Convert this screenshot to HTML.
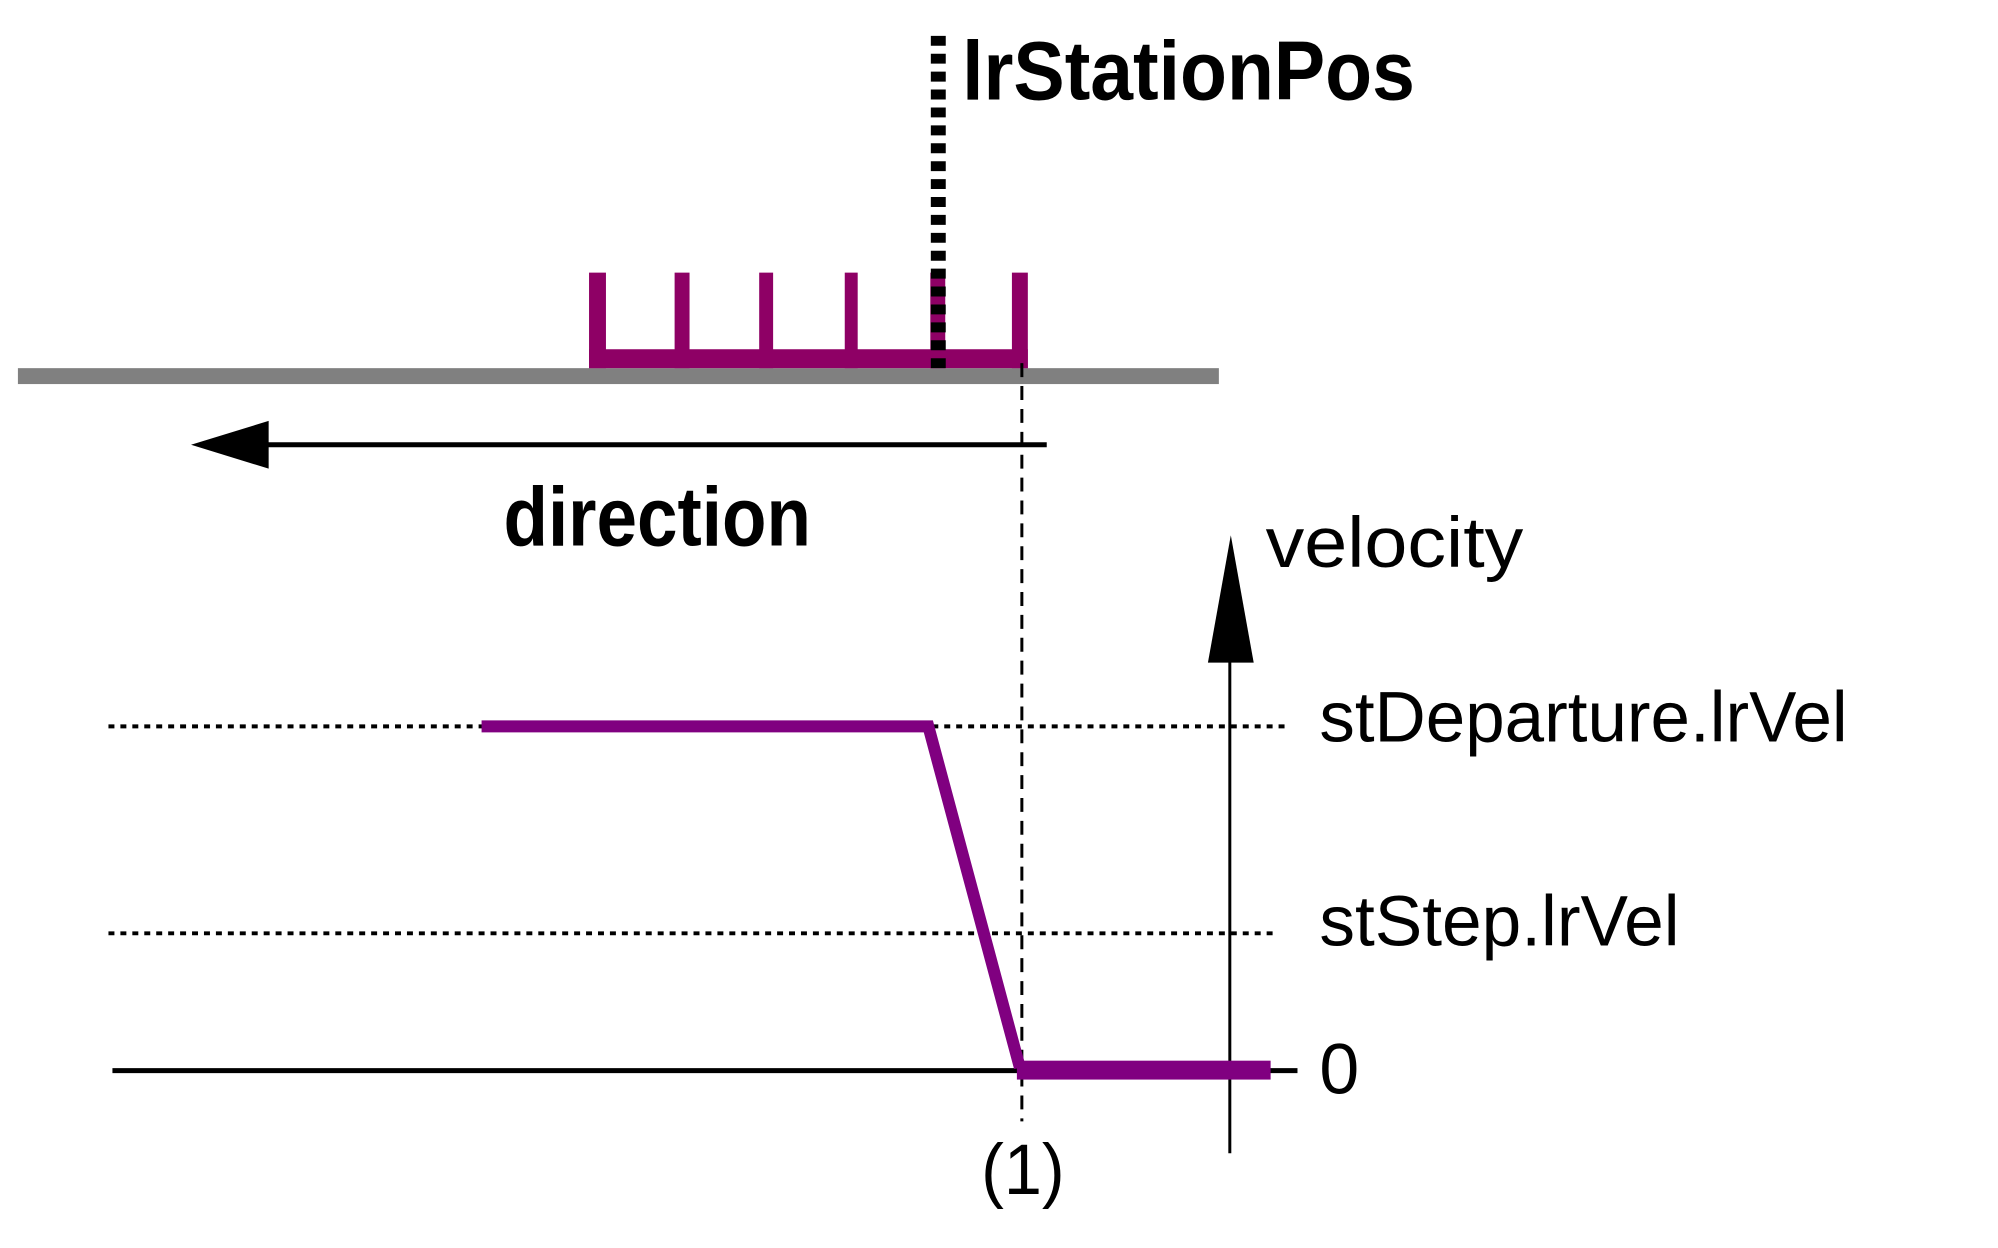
<!DOCTYPE html>
<html><head><style>html,body{margin:0;padding:0;background:#fff}svg{display:block}</style></head>
<body>
<svg width="1998" height="1248" viewBox="0 0 1998 1248" xmlns="http://www.w3.org/2000/svg" font-family="Liberation Sans, sans-serif">
<g transform="scale(0.995)">
<rect x="18" y="370" width="1207" height="16" fill="#808080"/>
<g fill="#8e0065">
<rect x="592" y="274" width="17" height="96"/>
<rect x="678" y="274" width="15" height="96"/>
<rect x="763" y="274" width="14" height="96"/>
<rect x="849" y="274" width="13" height="96"/>
<rect x="935" y="274" width="15" height="96"/>
<rect x="1017" y="274" width="16" height="96"/>
<rect x="592" y="351" width="441" height="19"/>
</g>
<line x1="943" y1="36" x2="943" y2="372" stroke="#000" stroke-width="15" stroke-dasharray="10 8"/>
<text x="967" y="100" font-size="84" font-weight="bold" textLength="455" lengthAdjust="spacingAndGlyphs">lrStationPos</text>
<line x1="1027" y1="365" x2="1027" y2="1127" stroke="#000" stroke-width="3" stroke-dasharray="14 9"/>
<line x1="250" y1="447" x2="1052" y2="447" stroke="#000" stroke-width="5"/>
<polygon points="192,447 270,423 270,471" fill="#000"/>
<text x="506" y="548" font-size="84" font-weight="bold" textLength="309" lengthAdjust="spacingAndGlyphs">direction</text>
<line x1="1236" y1="600" x2="1236" y2="1159" stroke="#000" stroke-width="3"/>
<polygon points="1237,538 1214,666 1260,666" fill="#000"/>
<text x="1272" y="570" font-size="72" textLength="259" lengthAdjust="spacingAndGlyphs">velocity</text>
<line x1="109" y1="730" x2="1296" y2="730" stroke="#000" stroke-width="4" stroke-dasharray="6 6"/>
<line x1="109" y1="938" x2="1281" y2="938" stroke="#000" stroke-width="4" stroke-dasharray="6 6"/>
<line x1="113" y1="1076" x2="1304" y2="1076" stroke="#000" stroke-width="5"/>
<polyline points="484,730 933,730 1025,1073" fill="none" stroke="#800080" stroke-width="12"/>
<rect x="1022" y="1066" width="255" height="19" fill="#800080"/>
<text x="1326" y="745" font-size="72" textLength="531" lengthAdjust="spacingAndGlyphs">stDeparture.lrVel</text>
<text x="1326" y="950" font-size="72" textLength="362" lengthAdjust="spacingAndGlyphs">stStep.lrVel</text>
<text x="1326" y="1099" font-size="72">0</text>
<text x="986" y="1200" font-size="72" textLength="84" lengthAdjust="spacingAndGlyphs">(1)</text>
</g>
</svg>
</body></html>
